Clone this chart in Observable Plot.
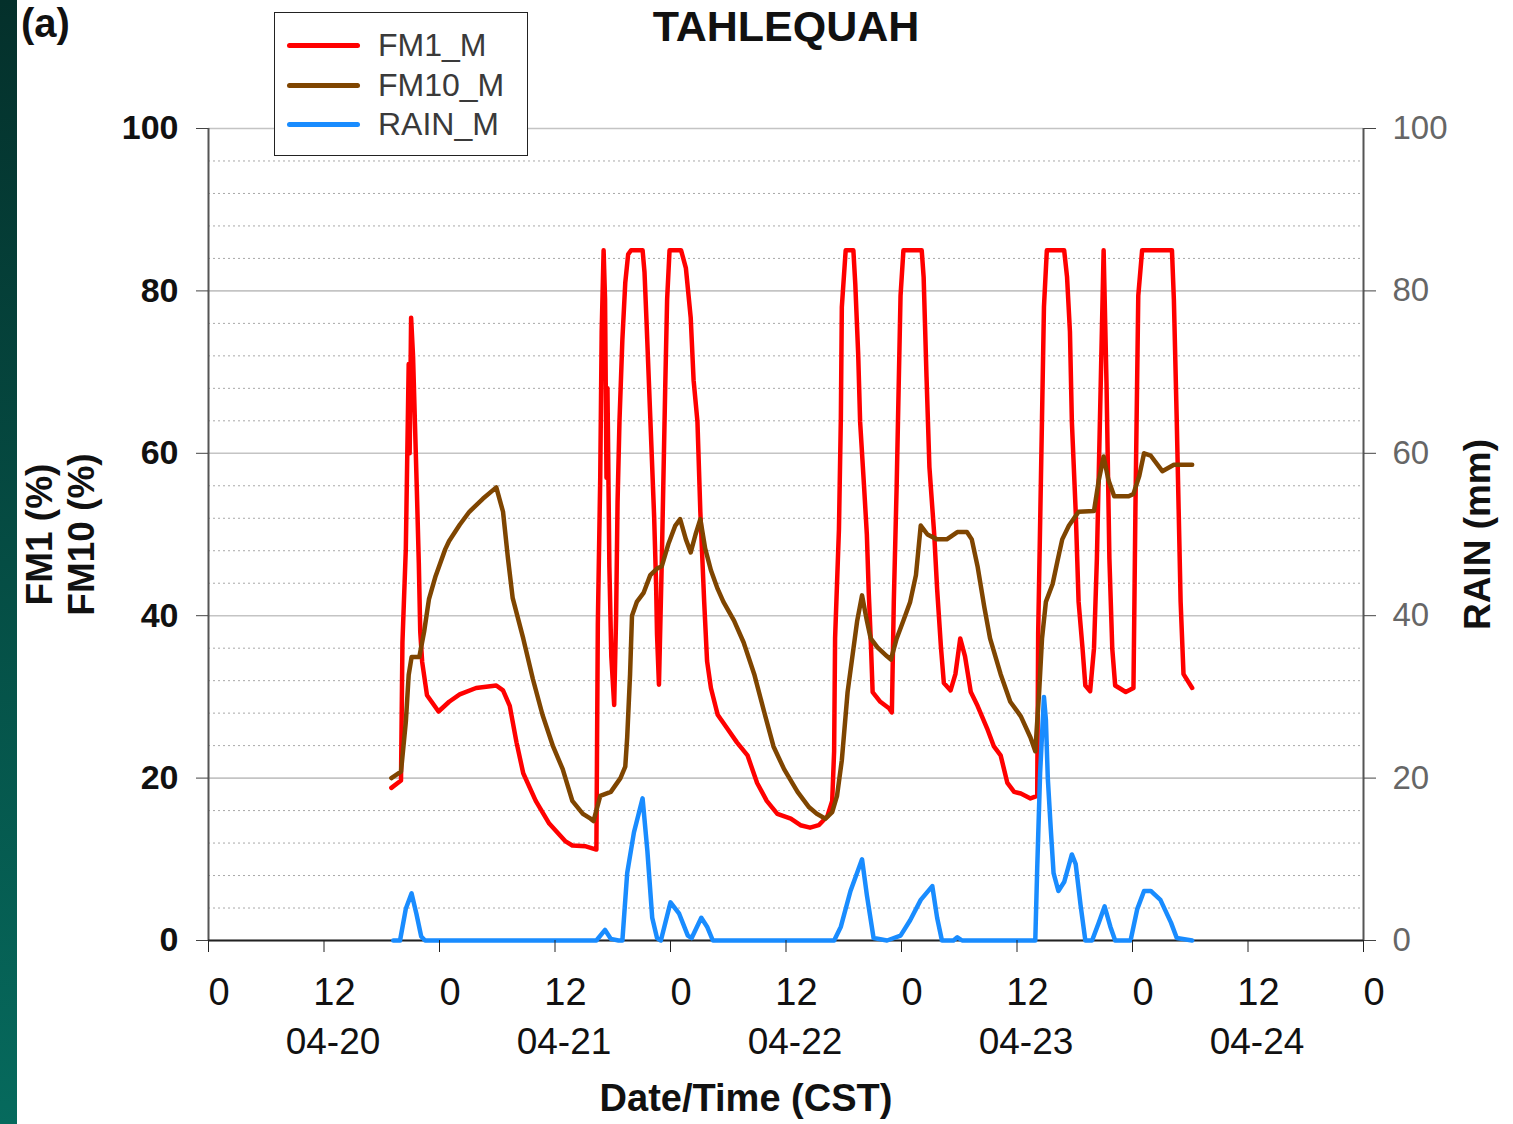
<!DOCTYPE html>
<html>
<head>
<meta charset="utf-8">
<script src="https://cdn.jsdelivr.net/npm/d3@7"></script>
<script src="https://cdn.jsdelivr.net/npm/@observablehq/plot@0.6"></script>
<style>
  body { margin: 0; background: #fff; }
  #wrap { position: relative; width: 1513px; height: 1124px; overflow: hidden; font-family: "Liberation Sans", Arial, sans-serif; }
  #strip { position: absolute; left: 0; top: 0; width: 17px; height: 1124px; background: linear-gradient(#04302b, #066a5d); z-index: 3; }
  #panel { position: absolute; left: 21px; top: 3px; font-size: 40px; line-height: 40px; font-weight: bold; color: #111; z-index: 3; }
  #title { position: absolute; left: 586px; width: 400px; top: 5px; text-align: center; font-size: 43px; line-height: 1; font-weight: bold; color: #111; z-index: 3; }
  #legend { position: absolute; left: 274px; top: 12px; width: 252px; height: 142px; border: 1.6px solid #222; background: #fff; z-index: 3; }
  .lg-line { position: absolute; width: 73px; height: 5px; border-radius: 3px; }
  .lg-text { position: absolute; font-size: 32px; line-height: 32px; color: #3a3a3a; }
  #chart { position: absolute; left: 0; top: 0; }
</style>
</head>
<body>
<div id="wrap">
  <div id="chart"></div>
  <div id="strip"></div>
  <div id="panel">(a)</div>
  <div id="title">TAHLEQUAH</div>
  <div id="legend"></div>
</div>
<script>
// ---- Data (hours since 04-20 00:00 CST) ----
const fm1Hours = [19.0, 20.0, 20.15, 20.5, 20.65, 20.8, 20.9, 21.05, 21.25, 21.45, 21.65, 21.85, 22.0, 22.2, 22.7, 23.9, 25.0, 26.1, 27.8, 29.9, 30.6, 31.3, 32.0, 32.7, 34.0, 35.4, 37.1, 37.8, 39.2, 40.3,
  40.45, 40.7, 40.85, 41.05, 41.2, 41.35, 41.45, 41.65, 41.85, 42.15, 42.35, 42.5, 42.7, 43.0, 43.3, 43.6, 43.9, 45.1, 45.3, 45.5, 45.9, 46.3, 46.5, 46.6, 46.8,
  47.1, 47.45, 47.65, 47.9, 49.1, 49.6, 50.1, 50.4, 50.8, 51.1, 51.5, 51.8, 52.2, 52.9, 53.9, 54.9, 56.0, 57.0, 58.0, 59.1, 60.5, 61.5, 62.5, 63.4, 64.3, 64.8,
  65.0, 65.1, 65.5, 65.7, 65.8, 66.2, 67.0, 67.2, 67.5, 67.7, 68.1, 68.4, 68.6, 68.8, 69.0, 69.8, 70.7, 71.0, 71.2, 71.5, 71.7, 71.9, 72.2, 74.1, 74.3, 74.6, 74.9,
  75.4, 75.7, 76.1, 76.4, 77.1, 77.6, 78.1, 78.6, 79.2, 79.9, 80.9, 81.6, 82.3, 83.0, 83.7, 84.4, 85.4, 86.1, 86.2, 86.4, 86.6, 86.8, 87.1, 88.9, 89.2, 89.5, 89.7,
  90.1, 90.4, 90.8, 91.1, 91.6, 92.0, 92.3, 92.7, 93.0, 93.3, 93.6, 93.9, 94.2, 95.3, 96.1, 96.2, 96.3, 96.6, 97.0, 100.1, 100.3, 100.6, 101.0, 101.3, 102.2];
const fm1Values = [18.8, 19.7, 36.7, 48.2, 59.6, 71, 60, 76.7, 72, 63.7, 55.3, 46.5, 38, 34.3, 30.2, 28.2, 29.4, 30.3, 31.1, 31.4, 30.8, 28.9, 24.4, 20.6, 17.2, 14.4, 12.2, 11.7, 11.6, 11.2,
  39, 57, 75, 85, 79, 57, 68, 46, 35, 29, 40, 54, 64, 74, 81, 84.5, 85, 85, 82.3, 76.5, 64.4, 52.2, 44, 37.7, 31.5,
  47, 68, 79, 85, 85, 82.8, 76.7, 69, 63.9, 52.8, 41.7, 34.4, 31.1, 27.8, 26.1, 24.4, 22.8, 19.4, 17.2, 15.6, 15, 14.2, 13.9, 14.2, 15.3, 17.2,
  23.3, 37.2, 50.6, 64.4, 78, 85, 85, 80.8, 72.2, 63.9, 56.1, 50, 42.8, 37.2, 30.6, 29.4, 28.6, 28.1, 41.7, 56.1, 67.8, 79.4, 85, 85, 81.7, 69.4, 58.3,
  50, 43.3, 36.1, 31.7, 30.8, 32.8, 37.2, 35, 30.6, 28.9, 26.1, 23.9, 22.8, 19.4, 18.3, 18.1, 17.5, 17.8, 37.8, 51.1, 64.4, 78, 85, 85, 81.7, 75, 63.9,
  52.8, 41.7, 36.1, 31.4, 30.7, 36, 47, 68.6, 85, 68.6, 47, 35.9, 31.4, 30.6, 31.1, 41.7, 52.8, 79.4, 85, 85, 78.9, 63.9, 41.7, 32.8, 31.1];

const fm10Hours = [19.0, 20.0, 20.5, 20.8, 21.1, 21.9, 22.4, 22.9, 23.6, 24.6, 25.0, 26.1, 27.1, 28.5, 29.9, 30.6, 31.1, 31.6, 32.7, 33.7, 34.7, 35.8, 36.8, 37.8, 38.9, 39.7,
  40.0, 40.7, 41.8, 42.8, 43.3, 43.5, 43.8, 44.0, 44.5, 45.2, 45.9, 46.6, 47.1, 47.8, 48.5, 49.0, 49.6, 50.1, 50.6, 51.1, 51.6, 52.2, 52.9, 53.5, 54.6, 55.6, 56.7,
  57.7, 58.7, 59.8, 61.2, 62.4, 63.2, 64.1, 64.8, 65.3, 65.8, 66.4, 66.9, 67.4, 67.9, 68.4, 68.8, 69.5, 70.5, 70.9, 71.5, 72.2, 72.9, 73.5, 74.0, 74.7, 75.7, 76.7,
  77.8, 78.8, 79.3, 79.9, 80.6, 81.2, 82.3, 83.3, 84.4, 85.4, 85.9, 86.3, 86.6, 87.0, 87.7, 88.2, 88.7, 89.4, 90.4, 92.0, 92.5, 93.0, 93.5, 94.1, 95.6, 96.1,
  96.7, 97.2, 97.9, 99.1, 100.3, 102.2];
const fm10Values = [20, 20.8, 26.9, 32.7, 34.9, 34.9, 38, 42, 44.9, 48.2, 49.2, 51.2, 52.8, 54.4, 55.8, 52.8, 47.2, 42.2, 37.2, 32.2, 27.8, 23.9, 21.1, 17.2, 15.6, 15,
  14.7, 17.8, 18.3, 20, 21.4, 25, 32.8, 40, 41.7, 42.8, 45, 45.8, 46.1, 48.9, 51.1, 51.9, 49.4, 47.8, 50, 51.9, 48.3, 45.6, 43.3, 41.7, 39.4, 36.7, 32.8,
  28.3, 23.9, 21.1, 18.3, 16.4, 15.6, 15, 15.8, 17.8, 22.2, 30.6, 35, 39.4, 42.5, 39.4, 37.2, 36.1, 35, 34.6, 37.2, 39.4, 41.7, 45, 51.1, 50, 49.4, 49.4,
  50.3, 50.3, 49.4, 46.1, 41.1, 37.2, 32.8, 29.4, 27.6, 25, 23.3, 30.6, 37.2, 41.7, 43.9, 46.7, 49.4, 51.1, 52.8, 52.9, 56.7, 59.6, 56.7, 54.7, 54.7, 55,
  57.2, 60, 59.7, 57.8, 58.6, 58.6];

const rainHours = [19.2, 19.9, 20.5, 21.1, 21.6, 22.1, 22.5, 40.3, 41.2, 41.8, 42.6, 43.0, 43.5, 44.2, 45.1, 45.6, 46.1, 46.6, 47.0, 48.0, 48.9, 49.8, 50.2, 51.2, 51.8, 52.4,
  65.0, 65.7, 66.7, 67.9, 68.4, 69.1, 70.5, 71.9, 72.9, 74.0, 75.2, 75.7, 76.2, 77.4, 77.8, 78.3,
  85.9, 86.1, 86.4, 86.8, 87.0, 87.2, 87.5, 87.8, 88.3, 88.9, 89.7, 90.1, 90.6, 91.1, 91.8, 92.5, 93.1, 93.7, 94.2, 95.8, 96.5, 97.2, 97.9, 98.9, 100.0, 100.6, 102.2];
const rainValues = [0, 0, 3.9, 5.8, 3.3, 0.5, 0, 0, 1.3, 0.2, 0, 0, 8.3, 13.3, 17.5, 11, 2.8, 0.3, 0, 4.7, 3.3, 0.6, 0.3, 2.8, 1.7, 0,
  0, 1.7, 6.1, 10, 5.6, 0.3, 0, 0.6, 2.5, 5, 6.7, 2.8, 0, 0, 0.4, 0,
  0, 8.9, 20.6, 30, 27.2, 20, 13.9, 8.3, 6.1, 7.2, 10.6, 9.4, 4.4, 0, 0, 2.2, 4.2, 1.7, 0, 0, 3.9, 6.1, 6.1, 5, 2.2, 0.3, 0];

const xTickHours = [0, 12, 24, 36, 48, 60, 72, 84, 96, 108, 120];
const dateLabels = ["04-20", "04-21", "04-22", "04-23", "04-24"];
const dateHours = [12, 36, 60, 84, 108];
const yTicks = [0, 20, 40, 60, 80, 100];
const yMinor = [4, 8, 12, 16, 24, 28, 32, 36, 44, 48, 52, 56, 64, 68, 72, 76, 84, 88, 92, 96];

const series = [
  {name: "FM1_M", color: "#ff0000"},
  {name: "FM10_M", color: "#7f4500"},
  {name: "RAIN_M", color: "#198cff"}
];

const toRows = (hs, vs) => hs.map((h, i) => ({h, v: vs[i]}));
const fm1 = toRows(fm1Hours, fm1Values);
const fm10 = toRows(fm10Hours, fm10Values);
const rain = toRows(rainHours, rainValues);

const font = "'Liberation Sans', Arial, sans-serif";

const chart = Plot.plot({
  width: 1513,
  height: 1124,
  marginLeft: 208,
  marginRight: 150,
  marginTop: 128,
  marginBottom: 184,
  style: {fontFamily: font, background: "transparent", color: "#111"},
  x: {domain: [0, 120], axis: null},
  y: {domain: [0, 100], axis: null},
  marks: [
    Plot.ruleY(yMinor, {stroke: "#a8a8a8", strokeWidth: 1, strokeDasharray: "2,3"}),
    Plot.ruleY(yTicks, {stroke: "#c4c4c4", strokeWidth: 1.6}),
    Plot.line(fm1, {x: "h", y: "v", stroke: series[0].color, strokeWidth: 4.5, strokeLinejoin: "round"}),
    Plot.line(fm10, {x: "h", y: "v", stroke: series[1].color, strokeWidth: 4.5, strokeLinejoin: "round"}),
    Plot.ruleX([0, 120], {stroke: "#555", strokeWidth: 2}),
    Plot.ruleY([0], {stroke: "#222", strokeWidth: 2}),
    Plot.line(rain, {x: "h", y: "v", stroke: series[2].color, strokeWidth: 4.5, strokeLinejoin: "round"}),
    Plot.axisY({anchor: "left", ticks: yTicks, tickSize: 12, tickPadding: 18, stroke: "#444", fill: "#111",
      fontSize: 34, fontWeight: "bold", label: null}),
    Plot.axisY({anchor: "right", ticks: yTicks, tickSize: 12, tickPadding: 17, stroke: "#444", fill: "#666",
      fontSize: 33, label: null}),
    Plot.axisX({anchor: "bottom", ticks: xTickHours, tickSize: 12, stroke: "#222", fill: "none", label: null}),
    Plot.text(xTickHours, {x: d => d, text: d => String(d % 24), frameAnchor: "bottom", dy: 64, dx: 10.5,
      fontSize: 38, fill: "#111"}),
    Plot.text(dateHours, {x: d => d, text: (d, i) => dateLabels[i], frameAnchor: "bottom", dy: 113, dx: 9,
      fontSize: 37, fill: "#111"}),
    Plot.text(["FM1 (%)\nFM10 (%)"], {frameAnchor: "left", textAnchor: "middle", dx: -149, rotate: -90, fontSize: 37,
      fontWeight: "bold", lineHeight: 1.14, fill: "#111"}),
    Plot.text(["RAIN (mm)"], {frameAnchor: "right", textAnchor: "middle", dx: 115, rotate: -90, fontSize: 37, fontWeight: "bold", fill: "#111"}),
    Plot.text(["Date/Time (CST)"], {frameAnchor: "bottom", dx: -40, dy: 170, fontSize: 38, fontWeight: "bold", fill: "#111"})
  ]
});
document.getElementById("chart").appendChild(chart);

// legend
const legend = document.getElementById("legend");
const rowsY = [45, 85, 124];
series.forEach((s, i) => {
  const line = document.createElement("div");
  line.className = "lg-line";
  line.style.background = s.color;
  line.style.left = (287 - 275) + "px";
  line.style.top = (rowsY[i] - 13 - 2.5) + "px";
  legend.appendChild(line);
  const t = document.createElement("div");
  t.className = "lg-text";
  t.textContent = s.name;
  t.style.left = (378 - 275) + "px";
  t.style.top = (rowsY[i] - 13 - 16) + "px";
  legend.appendChild(t);
});
</script>
</body>
</html>
